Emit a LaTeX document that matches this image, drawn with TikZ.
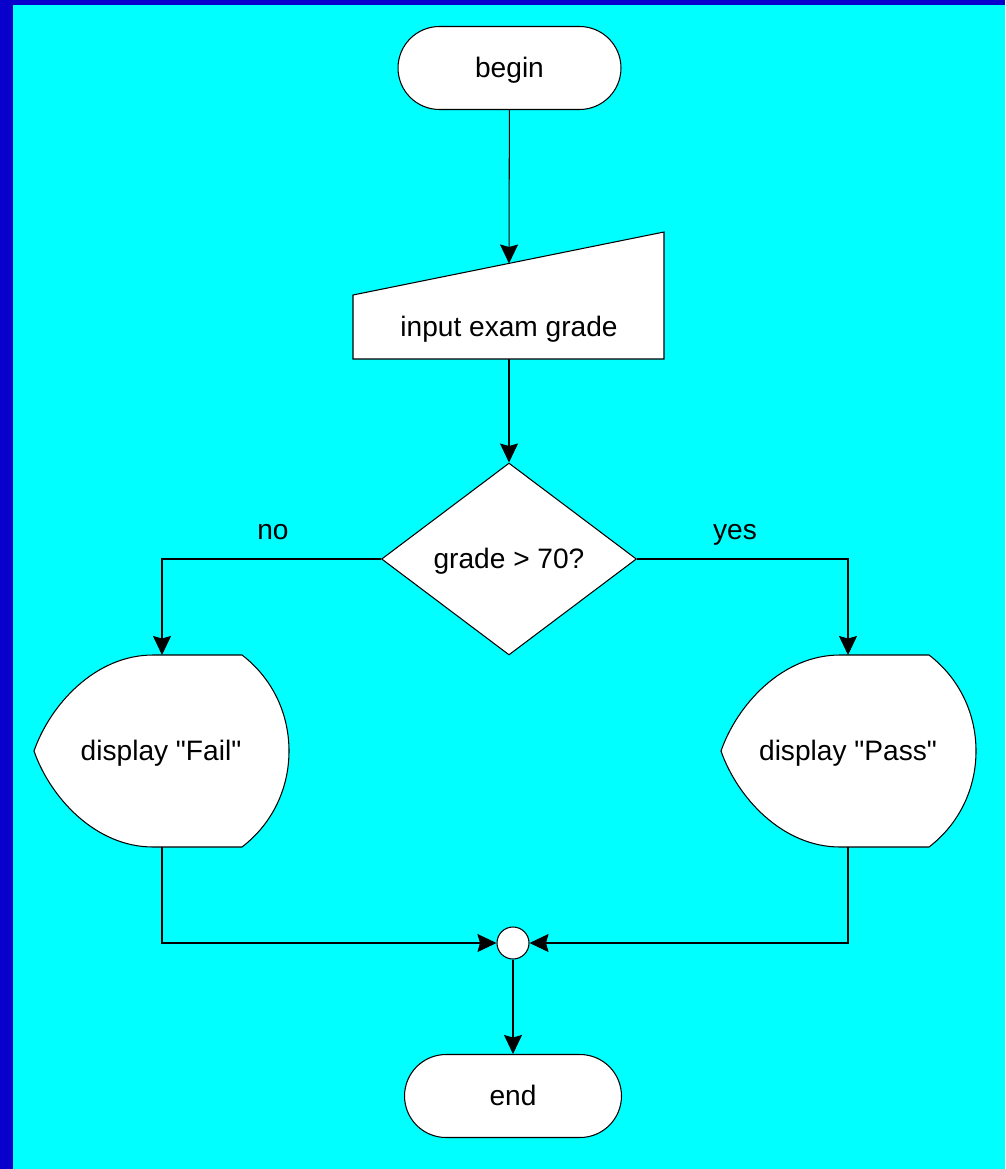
\documentclass[tikz,border=0pt]{standalone}
\usepackage{fontspec}
\setmainfont{Liberation Sans}
\usetikzlibrary{arrows.meta,shapes.geometric}
\definecolor{sheet}{RGB}{0,255,255}
\definecolor{rim}{RGB}{10,0,204}

\begin{document}
\begin{tikzpicture}[x=0.02cm, y=-0.02cm,
    font=\fontsize{16}{19}\selectfont,
    every node/.append style={text height=13pt, text depth=2pt},
    line width=0.6pt,
    flow/.style={-{Stealth[length=0.38cm,width=0.36cm,inset=0.05cm]}},
    term/.style={draw, fill=white, rectangle, rounded corners=0.83cm,
      minimum height=1.66cm, inner sep=0pt},
    panel/.style={draw, fill=white, line join=miter}]

  % page and frame
  \fill[rim] (0,0) rectangle (1005,1169);
  \fill[sheet] (13,5) rectangle (1005,1169);

  % terminals
  \node[term, minimum width=4.46cm] (begin) at (509.5,68) {begin};
  \node[term, minimum width=4.34cm] (end) at (513,1096) {end};

  % manual input
  \coordinate (in1) at (353,295);
  \coordinate (in2) at (664,232);
  \coordinate (in3) at (664,359);
  \coordinate (in4) at (353,359);
  \draw[panel] (in1) -- (in2) -- (in3) -- (in4) -- cycle;
  \node (input) at (509,327) {input exam grade};
  \coordinate (intop) at (509,263.5);
  \coordinate (inbot) at (509,359);

  % decision
  \node[diamond, draw, fill=white, inner sep=0pt,
    minimum width=5.1cm, minimum height=3.84cm] (test) at (509,559) {grade > 70?};

  % display shapes
  \foreach \dx in {0,687}{
    \begin{scope}[shift={(\dx,0)}]
      \draw[panel] (34,751) .. controls (50,705) and (95,655) .. (153,655)
        -- (242,655) .. controls (272,678) and (289,713) .. (289,751)
        .. controls (289,789) and (272,824) .. (242,847)
        -- (153,847) .. controls (95,847) and (50,797) .. cycle;
    \end{scope}
  }
  \node (fail) at (161,751) {display \textquotedbl Fail\textquotedbl};
  \node (pass) at (848,751) {display \textquotedbl Pass\textquotedbl};
  \coordinate (failtop) at (162,655);
  \coordinate (failbot) at (162,847);
  \coordinate (passtop) at (848,655);
  \coordinate (passbot) at (848,847);

  % junction
  \node[circle, draw, fill=white, minimum size=0.64cm, inner sep=0pt] (join) at (513,943) {};

  % branch labels
  \node (no) at (273,530) {no};
  \node (yes) at (735,530) {yes};

  % connectors
  \draw[flow] (begin) -- (intop);
  \draw[flow] (inbot) -- (test.north);
  \draw[flow] (test.west) -| (failtop);
  \draw[flow] (test.east) -| (passtop);
  \draw[flow] (failbot) |- (join.west);
  \draw[flow] (passbot) |- (join.east);
  \draw[flow] (join) -- (end);
\end{tikzpicture}
\end{document}
